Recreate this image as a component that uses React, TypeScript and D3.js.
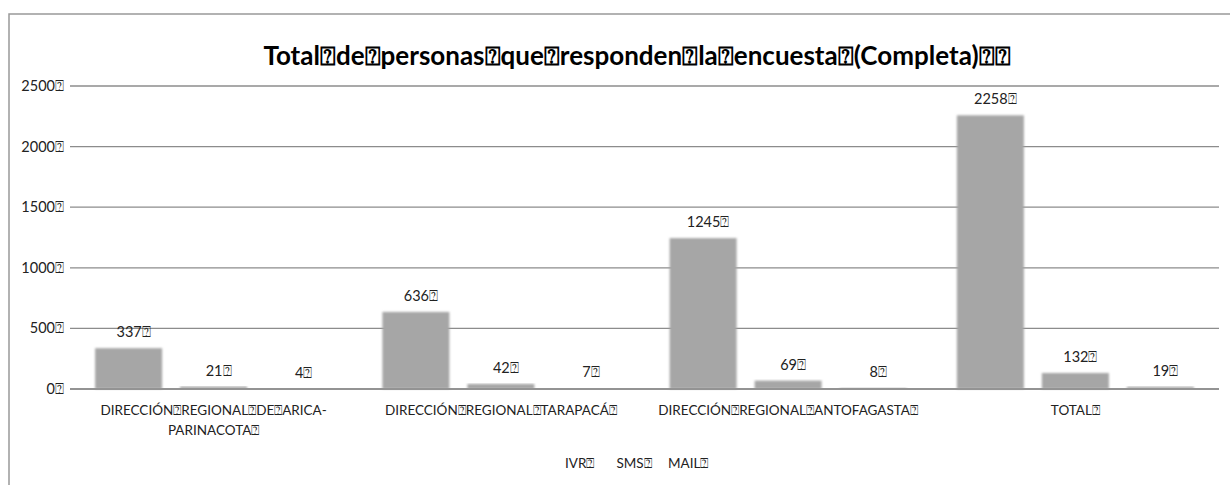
import React, { useEffect, useRef } from "react";
import * as d3 from "d3";

const BOX = "\u2370";
const title = `Total${BOX}de${BOX}personas${BOX}que${BOX}responden${BOX}la${BOX}encuesta${BOX}(Completa)${BOX}${BOX}`;
const categories = [
  `DIRECCIÓN${BOX}REGIONAL${BOX}DE${BOX}ARICA-PARINACOTA${BOX}`,
  `DIRECCIÓN${BOX}REGIONAL${BOX}TARAPACÁ${BOX}`,
  `DIRECCIÓN${BOX}REGIONAL${BOX}ANTOFAGASTA${BOX}`,
  `TOTAL${BOX}`,
];
const seriesNames = [`IVR${BOX}`, `SMS${BOX}`, `MAIL${BOX}`];
const ivr = [337, 636, 1245, 2258];
const sms = [21, 42, 69, 132];
const mail = [4, 7, 8, 19];
const yTicks = [0, 500, 1000, 1500, 2000, 2500];

const W = 1230;
const H = 485;
const FONT = "Lato, 'Open Sans', sans-serif";

export default function App() {
  const ref = useRef<SVGSVGElement>(null);
  useEffect(() => {
    const svg = d3.select(ref.current);
    svg.selectAll("*").remove();

    const defs = svg.append("defs");
    defs.append("filter").attr("id", "soft").attr("x", "-10%").attr("y", "-10%").attr("width", "120%").attr("height", "120%")
      .append("feGaussianBlur").attr("stdDeviation", 0.9);

    // frame
    svg.append("rect").attr("x", 9).attr("y", 14).attr("width", 1400).attr("height", 600)
      .attr("fill", "#fff").attr("stroke", "#999").attr("stroke-width", 1.5);

    const x0 = d3.scaleBand<string>().domain(categories).range([70, 1219]);
    const bw = x0.bandwidth();
    const x1 = d3.scaleBand<string>().domain(seriesNames)
      .range([bw / 2 - 127.5, bw / 2 + 127.5]).paddingInner(18 / 85).paddingOuter(9 / 85);
    const y = d3.scaleLinear().domain([0, 2500]).range([389, 86]);

    // grid
    const g = svg.append("g");
    g.selectAll("line.grid").data(yTicks).join("line")
      .attr("x1", 70).attr("x2", 1219)
      .attr("y1", (d) => y(d)).attr("y2", (d) => y(d))
      .attr("stroke", "#8c8c8c").attr("stroke-width", 1.3);
    g.selectAll("text.yt").data(yTicks).join("text")
      .attr("x", 64).attr("y", (d) => y(d)).attr("dy", "0.35em")
      .attr("text-anchor", "end").attr("font-family", FONT).attr("font-size", 14.5)
      .attr("fill", "#222").text((d) => `${d}${BOX}`);

    const series = [ivr, sms, mail];
    series.forEach((vals, si) => {
      const name = seriesNames[si];
      g.selectAll(`rect.s${si}`).data(vals).join("rect")
        .attr("x", (_, i) => (x0(categories[i]) as number) + (x1(name) as number))
        .attr("width", x1.bandwidth())
        .attr("y", (d) => y(d))
        .attr("height", (d) => y(0) - y(d))
        .attr("fill", "#a6a6a6")
        .attr("filter", "url(#soft)");
      g.selectAll(`text.v${si}`).data(vals).join("text")
        .attr("x", (_, i) => (x0(categories[i]) as number) + (x1(name) as number) + x1.bandwidth() / 2 + 5)
        .attr("y", (d) => y(d) - 16).attr("dy", "0.35em")
        .attr("text-anchor", "middle").attr("font-family", FONT).attr("font-size", 14.5)
        .attr("fill", "#222").text((d) => `${d}${BOX}`);
    });

    // axis line on top
    g.append("line").attr("x1", 70).attr("x2", 1219).attr("y1", y(0)).attr("y2", y(0))
      .attr("stroke", "#8c8c8c").attr("stroke-width", 1.5);

    // category labels
    categories.forEach((c) => {
      const cx = (x0(c) as number) + bw / 2;
      const idx = c.indexOf("-");
      const lines = idx >= 0 ? [c.slice(0, idx + 1), c.slice(idx + 1)] : [c];
      const t = g.append("text").attr("text-anchor", "middle").attr("font-family", FONT)
        .attr("font-size", 13.5).attr("fill", "#222");
      lines.forEach((l, li) => {
        t.append("tspan").attr("x", cx).attr("y", 410 + li * 20).attr("dy", "0.35em").text(l);
      });
    });

    // title
    svg.append("text").attr("x", 637).attr("y", 65).attr("text-anchor", "middle")
      .attr("font-family", FONT).attr("font-weight", "bold").attr("font-size", 26)
      .attr("fill", "#000").text(title);

    // legend
    const lx = d3.scalePoint<string>().domain(seriesNames).range([565, 668]);
    svg.selectAll("text.leg").data(seriesNames).join("text")
      .attr("x", (d) => lx(d) as number).attr("y", 463).attr("dy", "0.35em")
      .attr("font-family", FONT).attr("font-size", 13.5).attr("fill", "#222")
      .text((d) => d);
  }, []);

  return (
    <svg ref={ref} width={W} height={H}
      style={{ position: "absolute", left: 0, top: 0, background: "#fff" }} />
  );
}
